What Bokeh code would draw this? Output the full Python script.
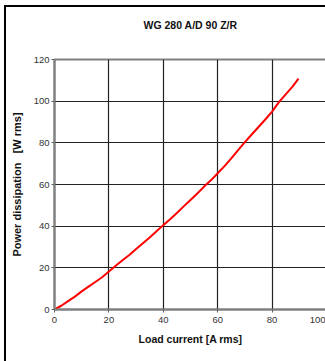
from bokeh.plotting import figure
from bokeh.models import Range1d, FixedTicker
from bokeh.embed import file_html
from bokeh.resources import INLINE

chart_title = "WG 280 A/D 90 Z/R"
x_label = "Load current [A rms]"
y_label = "Power dissipation \u00a0\u00a0[W rms]"

load_current = [0, 2.5, 5, 7.5, 10, 12.5, 15, 17.5, 20, 22.5, 25, 27.5, 30, 32.5,
                35, 37.5, 40, 42.5, 45, 47.5, 50, 52.5, 55, 57.5, 60, 62.5, 65,
                67.5, 70, 72.5, 75, 77.5, 80, 82.5, 85, 87.5, 89.7]
power_loss = [0, 1.8, 4.0, 6.2, 8.7, 11.0, 13.2, 15.5, 18.2, 21.0, 23.6, 26.2, 29.0,
              31.8, 34.6, 37.6, 40.5, 43.3, 46.3, 49.5, 52.6, 55.7, 59.0, 62.0, 65.4,
              68.8, 72.5, 76.5, 80.3, 84.0, 87.6, 91.2, 95.0, 99.5, 103.3, 107.0, 110.8]

x_ticks = [0, 20, 40, 60, 80, 100]
y_ticks = [0, 20, 40, 60, 80, 100, 120]

p = figure(width=321, height=356, output_backend="svg", toolbar_location=None,
           x_range=Range1d(0, 100), y_range=Range1d(0, 120),
           min_border_left=48, min_border_right=1, min_border_top=52, min_border_bottom=54)
p.margin = (5, 0, 0, 4)
p.styles = {"border-left": "2px solid #000", "border-top": "2px solid #000"}

# title block padded with blank lines so it sits high above the plot area
p.title.text = chart_title + "\n\u00a0\n\u00a0"
p.title.align = "center"
p.title.vertical_align = "top"
p.title.offset = -19
p.title.text_font = "Liberation Sans"
p.title.text_font_style = "bold"
p.title.text_font_size = "10.5px"
p.title.text_color = "#111111"
p.title.standoff = 6

p.background_fill_color = "white"
p.border_fill_color = "white"
p.outline_line_color = "#808080"
p.outline_line_width = 2

for ax in (p.xaxis[0], p.yaxis[0]):
    ax.axis_line_color = "#808080"
    ax.axis_line_width = 2
    ax.major_tick_line_color = "#606060"
    ax.major_tick_in = 0
    ax.major_tick_out = 3
    ax.minor_tick_line_color = None
    ax.major_label_text_font = "Liberation Sans"
    ax.major_label_text_font_size = "9.5px"
    ax.major_label_text_color = "#333333"
    ax.axis_label_text_font = "Liberation Sans"
    ax.axis_label_text_font_style = "bold"
    ax.axis_label_text_color = "#111111"

p.xaxis.axis_label_text_font_size = "10.5px"
p.yaxis.axis_label_text_font_size = "11px"
p.xaxis.ticker = FixedTicker(ticks=x_ticks)
p.yaxis.ticker = FixedTicker(ticks=y_ticks)
p.xaxis.axis_label = x_label
p.yaxis.axis_label = y_label
p.xaxis.major_label_standoff = 4
p.yaxis.major_label_standoff = 2
p.xaxis.axis_label_standoff = 7
p.yaxis.axis_label_standoff = 8

p.grid.grid_line_color = "#222222"
p.grid.grid_line_width = 1.2
p.xgrid.ticker = FixedTicker(ticks=x_ticks)
p.ygrid.ticker = FixedTicker(ticks=y_ticks)

p.line(load_current, power_loss, line_color="#ff0000", line_width=2)

open("out.html", "w").write(file_html(p, INLINE))
